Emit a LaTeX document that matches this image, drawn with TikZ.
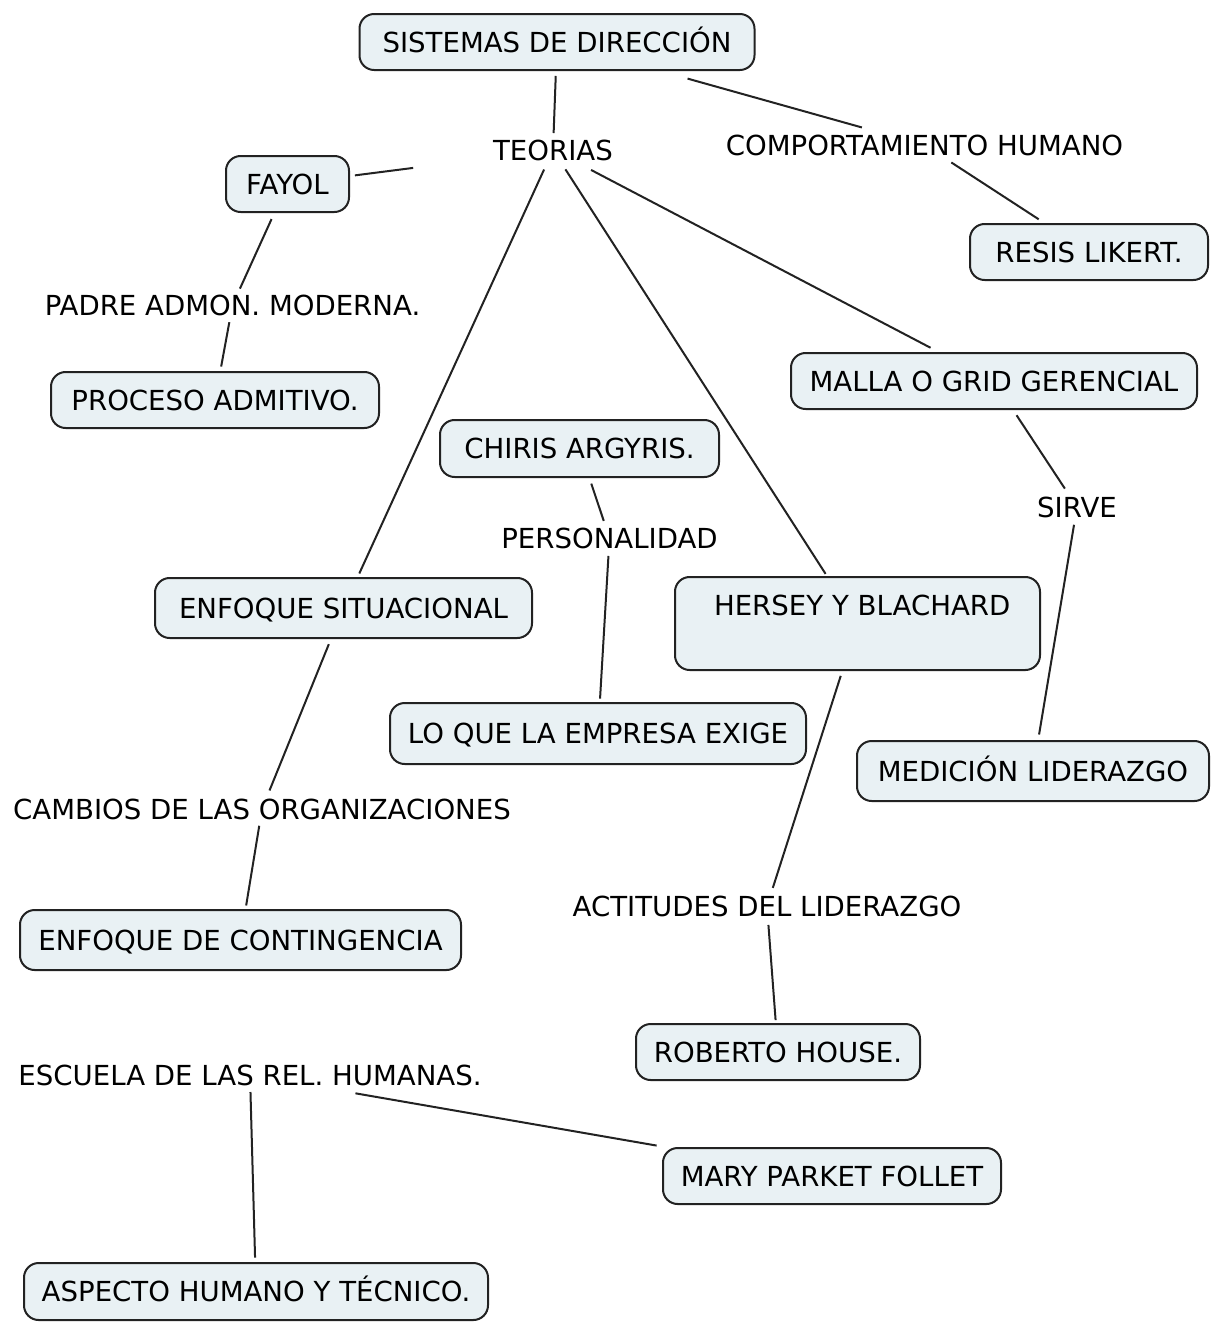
\documentclass[tikz,border=0pt]{standalone}
\usepackage{fontspec}
\setmainfont{DejaVu Sans}
\definecolor{boxfill}{HTML}{E9F1F4}
\definecolor{edge}{HTML}{222222}
\begin{document}
\begin{tikzpicture}[x=0.75pt,y=-0.75pt,
  every node/.style={font=\fontsize{20.7pt}{25pt}\selectfont, text height=15.1pt, text depth=0pt, inner sep=0pt},
  concept/.style={draw=edge, line width=1.5pt, rounded corners=11pt, fill=boxfill, align=center},
  phrase/.style={},
  link/.style={draw=edge, line width=1.5pt}]
\useasboundingbox (0,0) rectangle (1221,1325);

% concepts
\node[concept, minimum width=296.25pt, minimum height=42pt] (sis) at (557,42) {SISTEMAS DE DIRECCIÓN};
\node[concept, minimum width=92.25pt, minimum height=42pt] (fayol) at (287.5,184) {FAYOL};
\node[concept, minimum width=178.5pt, minimum height=42pt] (resis) at (1089,252) {RESIS LIKERT.};
\node[concept, minimum width=246pt, minimum height=42pt] (proceso) at (215,400) {PROCESO ADMITIVO.};
\node[concept, minimum width=304.5pt, minimum height=42pt] (malla) at (994,381) {MALLA O GRID GERENCIAL};
\node[concept, minimum width=209.25pt, minimum height=42.75pt] (chiris) at (579.5,448.5) {CHIRIS ARGYRIS.};
\node[concept, minimum width=282.75pt, minimum height=45pt] (sit) at (343.5,608) {ENFOQUE SITUACIONAL};
\node[concept, minimum width=273.75pt, minimum height=69.75pt, text depth=27.8pt] (hersey) at (857.5,623.5) {\hspace*{7pt}HERSEY Y BLACHARD};
\node[concept, minimum width=312pt, minimum height=45.75pt] (empresa) at (598,733.5) {LO QUE LA EMPRESA EXIGE};
\node[concept, minimum width=264pt, minimum height=45pt] (medicion) at (1033,771) {MEDICIÓN LIDERAZGO};
\node[concept, minimum width=330.75pt, minimum height=45pt] (conting) at (240.5,940) {ENFOQUE DE CONTINGENCIA};
\node[concept, minimum width=213pt, minimum height=42pt] (roberto) at (778,1052) {ROBERTO HOUSE.};
\node[concept, minimum width=253.5pt, minimum height=42pt] (mary) at (832,1176) {MARY PARKET FOLLET};
\node[concept, minimum width=348pt, minimum height=42.75pt] (aspecto) at (256,1291.5) {ASPECTO HUMANO Y TÉCNICO.};

% linking phrases
\node[phrase] (teo) at (553,150) {TEORIAS};
\node[phrase] (comp) at (924.5,145) {COMPORTAMIENTO HUMANO};
\node[phrase] (padre) at (232.5,305) {PADRE ADMON. MODERNA.};
\node[phrase] (sirve) at (1077,507) {SIRVE};
\node[phrase] (pers) at (609.5,538) {PERSONALIDAD};
\node[phrase] (cambios) at (262,809) {CAMBIOS DE LAS ORGANIZACIONES};
\node[phrase] (act) at (767,906) {ACTITUDES DEL LIDERAZGO};
\node[phrase] (escuela) at (250,1075) {ESCUELA DE LAS REL. HUMANAS.};

% connectors (centre to centre, trimmed at both ends)
\draw[link, shorten <=25.5pt, shorten >=12.75pt] (sis.center) -- (teo.center);
\draw[link, shorten <=101.7pt, shorten >=48.75pt] (sis.center) -- (comp.center);
\draw[link, shorten <=105.75pt, shorten >=51pt] (teo.center) -- (fayol.center);
\draw[link, shorten <=16.1pt, shorten >=28.5pt] (teo.center) -- (sit.center);
\draw[link, shorten <=17.25pt, shorten >=44.25pt] (teo.center) -- (hersey.center);
\draw[link, shorten <=32.25pt, shorten >=53.7pt] (teo.center) -- (malla.center);
\draw[link, shorten <=24pt, shorten >=45pt] (comp.center) -- (resis.center);
\draw[link, shorten <=28.9pt, shorten >=13.5pt] (fayol.center) -- (padre.center);
\draw[link, shorten <=13.1pt, shorten >=25.5pt] (padre.center) -- (proceso.center);
\draw[link, shorten <=30.75pt, shorten >=16.5pt] (malla.center) -- (sirve.center);
\draw[link, shorten <=13.5pt, shorten >=27.75pt] (sirve.center) -- (medicion.center);
\draw[link, shorten <=27.75pt, shorten >=13.5pt] (chiris.center) -- (pers.center);
\draw[link, shorten <=13.5pt, shorten >=26.25pt] (pers.center) -- (empresa.center);
\draw[link, shorten <=29.25pt, shorten >=15pt] (sit.center) -- (cambios.center);
\draw[link, shorten <=12.75pt, shorten >=26.25pt] (cambios.center) -- (conting.center);
\draw[link, shorten <=41.25pt, shorten >=14.25pt] (hersey.center) -- (act.center);
\draw[link, shorten <=14.25pt, shorten >=24pt] (act.center) -- (roberto.center);
\draw[link, shorten <=80.25pt, shorten >=133.5pt] (escuela.center) -- (mary.center);
\draw[link, shorten <=12.75pt, shorten >=25.5pt] (escuela.center) -- (aspecto.center);
\end{tikzpicture}
\end{document}
